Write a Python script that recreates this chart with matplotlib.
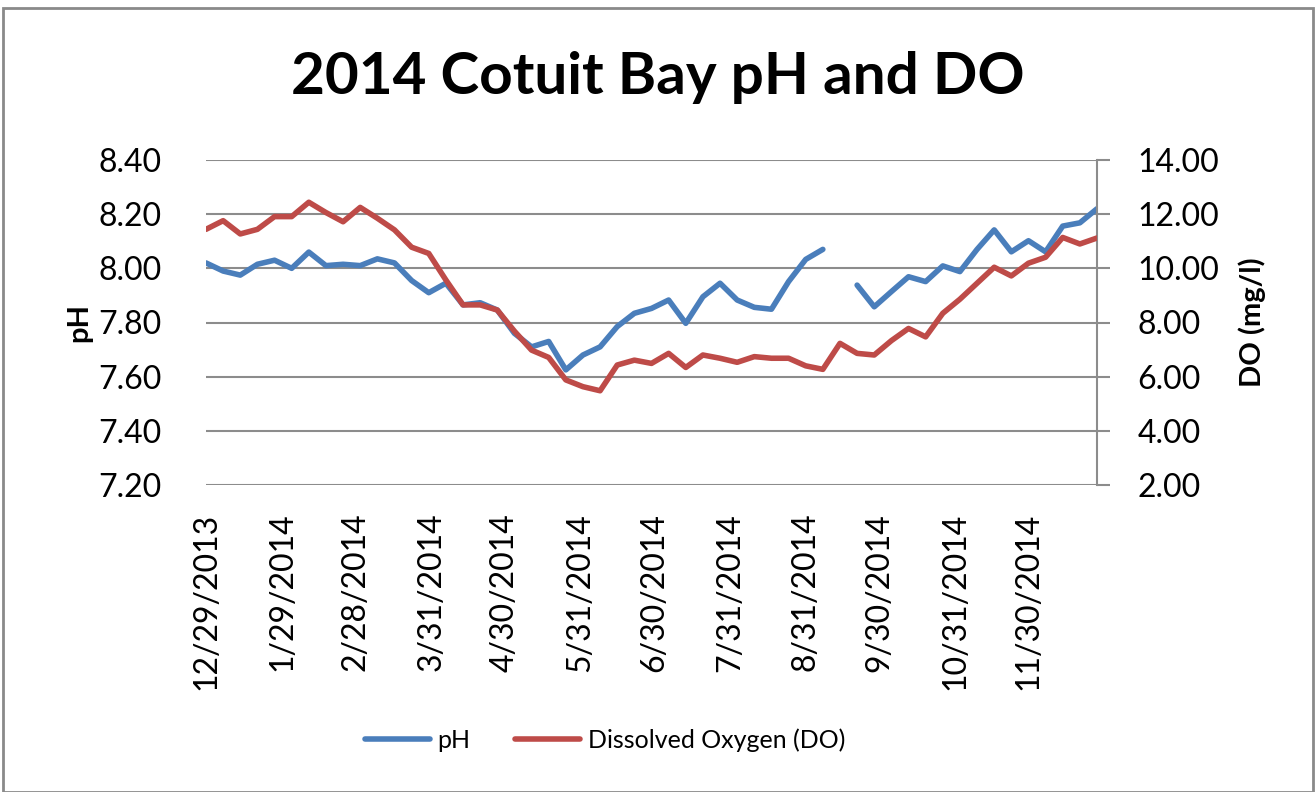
import datetime as dt
import matplotlib
matplotlib.use('Agg')
import matplotlib.pyplot as plt
from matplotlib.patches import Rectangle

plt.rcParams['font.family'] = ['Lato', 'DejaVu Sans']

# weekly samples starting 12/29/2013
start = dt.date(2013, 12, 29)
n_weeks = 53
dates = [start + dt.timedelta(days=7 * k) for k in range(n_weeks)]

ph = [8.02, 7.99, 7.975, 8.015, 8.03, 8.00, 8.06, 8.01, 8.015, 8.01,
      8.035, 8.02, 7.955, 7.91, 7.945, 7.865, 7.873, 7.846, 7.76, 7.71,
      7.73, 7.625, 7.68, 7.71, 7.785, 7.834, 7.852, 7.883, 7.797, 7.895,
      7.945, 7.883, 7.856, 7.849, 7.951, 8.033, 8.07, None, 7.938, 7.858,
      7.914, 7.969, 7.951, 8.009, 7.988, 8.07, 8.142, 8.061, 8.102, 8.061,
      8.156, 8.168, 8.22]

do = [11.44, 11.76, 11.27, 11.44, 11.91, 11.91, 12.44, 12.06, 11.72, 12.25,
      11.85, 11.42, 10.78, 10.55, 9.57, 8.65, 8.65, 8.46, 7.68, 6.98,
      6.71, 5.88, 5.63, 5.48, 6.43, 6.61, 6.49, 6.86, 6.34, 6.80,
      6.68, 6.53, 6.74, 6.68, 6.68, 6.40, 6.27, 7.23, 6.86, 6.80,
      7.33, 7.78, 7.47, 8.34, 8.86, 9.45, 10.04, 9.72, 10.19, 10.41,
      11.14, 10.90, 11.12]

tick_dates = [dt.date(2013, 12, 29), dt.date(2014, 1, 29), dt.date(2014, 2, 28),
              dt.date(2014, 3, 31), dt.date(2014, 4, 30), dt.date(2014, 5, 31),
              dt.date(2014, 6, 30), dt.date(2014, 7, 31), dt.date(2014, 8, 31),
              dt.date(2014, 9, 30), dt.date(2014, 10, 31), dt.date(2014, 11, 30)]
tick_labels = [f'{d.month}/{d.day}/{d.year}' for d in tick_dates]

ph_ticks = [7.2, 7.4, 7.6, 7.8, 8.0, 8.2, 8.4]
do_ticks = [2, 4, 6, 8, 10, 12, 14]

blue = '#4A7EBB'
red = '#BE4B48'
grid_c = '#8C8C8C'

W, H = 1315, 792
fig = plt.figure(figsize=(W / 100, H / 100), dpi=100)
fig.patches.append(Rectangle((3 / W, 0), (W - 5) / W, 1 - 8 / H, transform=fig.transFigure,
                             fill=False, edgecolor='#8A8A8A', linewidth=2))

ax = fig.add_axes([206 / W, 1 - 485 / H, (1097 - 206) / W, 325 / H])
ax2 = ax.twinx()

ph_vals = [float('nan') if v is None else v for v in ph]
ax.plot(dates, ph_vals, color=blue, lw=4, solid_capstyle='round', solid_joinstyle='round',
        label='pH', zorder=3)
ax2.plot(dates, do, color=red, lw=4, solid_capstyle='round', solid_joinstyle='round',
         label='Dissolved Oxygen (DO)', zorder=3)

ax.set_xlim(dates[0], dates[-1])
ax.set_ylim(7.2, 8.4)
ax2.set_ylim(2, 14)

ax.set_yticks(ph_ticks)
ax.set_yticklabels([f'{v:.2f}' for v in ph_ticks])
ax2.set_yticks(do_ticks)
ax2.set_yticklabels([f'{v:.2f}' for v in do_ticks])
ax.set_xticks(tick_dates)
ax.set_xticklabels(tick_labels, rotation=90)

ax.grid(axis='y', color=grid_c, lw=1.5)
ax.set_axisbelow(True)
for s in ['top', 'left', 'right', 'bottom']:
    ax.spines[s].set_visible(False)
for s in ['top', 'left', 'bottom']:
    ax2.spines[s].set_visible(False)
ax2.spines['right'].set_color(grid_c)
ax2.spines['right'].set_linewidth(1.5)

ax.tick_params(axis='y', length=0, pad=32, labelsize=23)
ax.tick_params(axis='x', length=0, pad=20, labelsize=23)
ax2.tick_params(axis='y', length=9, width=1.5, color=grid_c, direction='out', pad=20, labelsize=23)

ax.set_ylabel('pH', fontsize=21, fontweight='bold', labelpad=4)
ax2.set_ylabel('DO (mg/l)', fontsize=21, fontweight='bold', labelpad=14)

fig.text(0.5, 1 - 78 / H, '2014 Cotuit Bay pH and DO', ha='center', va='center',
         fontsize=42, fontweight='bold')

h1, l1 = ax.get_legend_handles_labels()
h2, l2 = ax2.get_legend_handles_labels()
fig.legend(h1 + h2, l1 + l2, loc='center', bbox_to_anchor=(605 / W, 1 - 740 / H), ncol=2,
           frameon=False, fontsize=18, handlelength=2.6, columnspacing=1.8, handletextpad=0.3)

fig.savefig('out.png', dpi=100)
